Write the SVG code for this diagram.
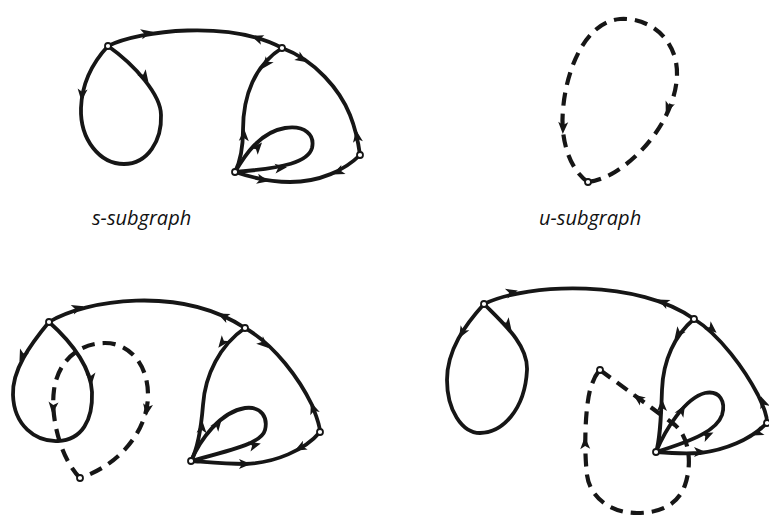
<svg xmlns="http://www.w3.org/2000/svg" xmlns:xlink="http://www.w3.org/1999/xlink" width="769" height="517" viewBox="0 0 769 517">
<defs>
<style>
.e{fill:none;stroke:#161616;stroke-width:3.8;stroke-linecap:round;stroke-linejoin:round}
.d{fill:none;stroke:#161616;stroke-width:4.2;stroke-dasharray:13 8;stroke-linecap:butt}
.n{fill:#fff;stroke:#161616;stroke-width:1.8}
.a{fill:#161616}
.t{font-family:"Open Sans","Noto Sans",sans-serif;font-style:italic;font-size:20px;fill:#111}
</style>
<path id="ah" d="M6,0 L-6,-5 L-3,0 L-6,5 Z"/>
</defs>
<rect width="769" height="517" fill="#fff"/>

<g id="connectors">
<!-- top-left s-subgraph -->
<path class="e" d="M108,46 C140,30 230,20 282,48"/>
<path class="e" d="M108,46 C95,60 82,80 81,108 C80,140 100,164 124,164 C148,164 162,140 161,115 C161,95 135,65 108,46"/>
<path class="e" d="M282,48 C255,65 243,95 243,130 C243,150 240,162 235,172"/>
<path class="e" d="M282,48 C315,60 340,90 350,115 C356,130 358,140 360,155"/>
<path class="e" d="M360,155 C345,170 320,182 290,182 C270,182 250,177 235,172"/>
<path class="e" d="M235,172 C245,155 260,132 285,128 C305,125 315,135 312,148 C308,162 285,168 235,172"/>
<g class="a">
<use xlink:href="#ah" transform="translate(147,33) rotate(-12)"/>
<use xlink:href="#ah" transform="translate(257,38) rotate(200)"/>
<use xlink:href="#ah" transform="translate(82,95) rotate(96)"/>
<use xlink:href="#ah" transform="translate(145,77) rotate(55)"/>
<use xlink:href="#ah" transform="translate(266,64) rotate(128)"/>
<use xlink:href="#ah" transform="translate(244,135) rotate(272)"/>
<use xlink:href="#ah" transform="translate(302,59) rotate(32)"/>
<use xlink:href="#ah" transform="translate(357,136) rotate(261)"/>
<use xlink:href="#ah" transform="translate(338,172) rotate(155)"/>
<use xlink:href="#ah" transform="translate(263,180) rotate(12)"/>
<use xlink:href="#ah" transform="translate(258,147) rotate(-48)"/>
<use xlink:href="#ah" transform="translate(281,168) rotate(-6)"/>
</g>

<!-- top-right u-subgraph -->
<path class="d" d="M588,182 C570,170 560,140 563,110 C566,70 585,22 620,19 C650,17 678,40 677,75 C676,110 650,150 615,172 C605,178 595,181 588,182"/>
<g class="a">
<use xlink:href="#ah" transform="translate(563,128) rotate(92)"/>
<use xlink:href="#ah" transform="translate(668,108) rotate(112)"/>
</g>

<!-- bottom-left -->
<path class="e" d="M49,322 C85,300 180,285 245,328"/>
<path class="e" d="M49,322 C30,345 12,370 13,395 C14,425 35,442 58,441 C82,440 93,420 92,392 C91,370 75,345 49,322"/>
<path class="d" d="M80,478 C62,460 50,420 54,390 C58,360 80,343 105,343 C130,343 148,365 148,395 C148,430 120,465 80,478"/>
<path class="e" d="M245,328 C220,345 205,375 203,405 C201,430 197,450 191,461"/>
<path class="e" d="M245,328 C275,345 300,380 312,405 C317,418 320,425 320,432"/>
<path class="e" d="M320,432 C305,450 275,463 245,464 C225,464 205,462 191,461"/>
<path class="e" d="M191,461 C200,440 220,412 245,408 C262,406 268,418 265,430 C262,442 240,448 191,461"/>
<g class="a">
<use xlink:href="#ah" transform="translate(78,308) rotate(-18)"/>
<use xlink:href="#ah" transform="translate(223,316) rotate(205)"/>
<use xlink:href="#ah" transform="translate(22,356) rotate(115)"/>
<use xlink:href="#ah" transform="translate(91,379) rotate(85)"/>
<use xlink:href="#ah" transform="translate(53,408) rotate(95)"/>
<use xlink:href="#ah" transform="translate(147,410) rotate(100)"/>
<use xlink:href="#ah" transform="translate(222,343) rotate(128)"/>
<use xlink:href="#ah" transform="translate(202,427) rotate(274)"/>
<use xlink:href="#ah" transform="translate(264,344) rotate(42)"/>
<use xlink:href="#ah" transform="translate(313,408) rotate(250)"/>
<use xlink:href="#ah" transform="translate(300,448) rotate(152)"/>
<use xlink:href="#ah" transform="translate(245,464) rotate(0)"/>
<use xlink:href="#ah" transform="translate(218,424) rotate(-52)"/>
<use xlink:href="#ah" transform="translate(255,445) rotate(-15)"/>
</g>

<!-- bottom-right -->
<path class="e" d="M484,304 C530,282 640,280 694,319"/>
<path class="e" d="M484,304 C465,325 447,350 447,380 C447,410 462,433 480,433 C502,433 525,410 527,370 C528,345 505,325 484,304"/>
<path class="e" d="M694,319 C675,335 663,360 662,390 C661,420 660,440 656,452"/>
<path class="e" d="M694,319 C720,335 745,370 758,395 C764,408 767,415 767,423"/>
<path class="e" d="M767,423 C750,440 725,450 700,453 C685,454 668,453 656,452"/>
<path class="e" d="M656,452 C665,430 685,398 705,393 C720,390 726,402 722,415 C717,430 695,440 656,452"/>
<path class="d" d="M600,370 L675,425 C690,438 692,465 685,485 C678,505 660,513 637,513 C610,513 590,497 587,475 C584,450 585,410 590,390 C593,380 596,374 600,370"/>
<g class="a">
<use xlink:href="#ah" transform="translate(512,292) rotate(-15)"/>
<use xlink:href="#ah" transform="translate(663,302) rotate(205)"/>
<use xlink:href="#ah" transform="translate(462,333) rotate(120)"/>
<use xlink:href="#ah" transform="translate(508,325) rotate(55)"/>
<use xlink:href="#ah" transform="translate(678,334) rotate(125)"/>
<use xlink:href="#ah" transform="translate(662,405) rotate(270)"/>
<use xlink:href="#ah" transform="translate(712,329) rotate(40)"/>
<use xlink:href="#ah" transform="translate(763,402) rotate(250)"/>
<use xlink:href="#ah" transform="translate(757,433) rotate(155)"/>
<use xlink:href="#ah" transform="translate(700,452) rotate(0)"/>
<use xlink:href="#ah" transform="translate(682,410) rotate(-60)"/>
<use xlink:href="#ah" transform="translate(708,435) rotate(-25)"/>
<use xlink:href="#ah" transform="translate(638,398) rotate(216)"/>
<use xlink:href="#ah" transform="translate(585,443) rotate(268)"/>
</g>
</g>

<g id="node-tl-a"><circle class="n" cx="108" cy="46" r="3"/></g>
<g id="node-tl-b"><circle class="n" cx="282" cy="48" r="3"/></g>
<g id="node-tl-c"><circle class="n" cx="360" cy="155" r="3"/></g>
<g id="node-tl-d"><circle class="n" cx="235" cy="172" r="3"/></g>
<g id="node-tr-u"><circle class="n" cx="588" cy="182" r="3"/></g>
<g id="node-bl-a"><circle class="n" cx="49" cy="322" r="3"/></g>
<g id="node-bl-b"><circle class="n" cx="245" cy="328" r="3"/></g>
<g id="node-bl-c"><circle class="n" cx="320" cy="432" r="3"/></g>
<g id="node-bl-d"><circle class="n" cx="191" cy="461" r="3"/></g>
<g id="node-bl-u"><circle class="n" cx="80" cy="478" r="3"/></g>
<g id="node-br-a"><circle class="n" cx="484" cy="304" r="3"/></g>
<g id="node-br-b"><circle class="n" cx="694" cy="319" r="3"/></g>
<g id="node-br-c"><circle class="n" cx="767" cy="423" r="3"/></g>
<g id="node-br-d"><circle class="n" cx="656" cy="452" r="3"/></g>
<g id="node-br-u"><circle class="n" cx="600" cy="370" r="3"/></g>

<g id="labels">
<text class="t" x="92" y="225">s-subgraph</text>
<text class="t" x="539" y="225">u-subgraph</text>
</g>
</svg>
